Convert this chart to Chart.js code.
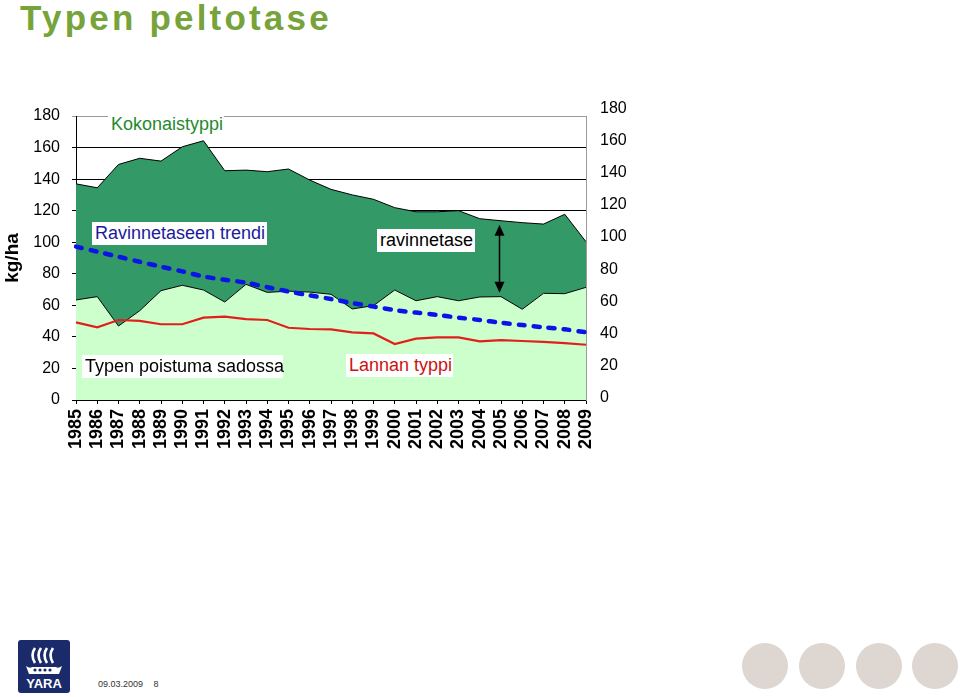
<!DOCTYPE html>
<html>
<head>
<meta charset="utf-8">
<script src="https://cdn.jsdelivr.net/npm/chart.js@4"></script>
<style>
	body { margin: 0; background: #fff; font-family: "Liberation Sans", Arial, sans-serif; }
	#page { position: relative; width: 960px; height: 697px; overflow: hidden; }
	#title { position: absolute; left: 20px; top: -2px; font-size: 35px; font-weight: bold; color: #76a33a; letter-spacing: 3.2px; }
	#chartBox { position: absolute; left: 0; top: 0; width: 640px; height: 470px; }
	.tag { position: absolute; background: #fff; font-size: 18px; line-height: 23px; height: 23px; padding-left: 3px; white-space: nowrap; z-index: 2; }
	#footDate { position: absolute; left: 98px; top: 679px; font-size: 9px; color: #333; word-spacing: 8px; }
	.dot { position: absolute; top: 643px; width: 46px; height: 46px; border-radius: 50%; background: #ddd6d1; }
</style>
</head>
<body>
<div id="page">
	<div id="title">Typen peltotase</div>
	<div id="chartBox"><canvas id="peltotaseChart" width="640" height="470"></canvas></div>

	<!-- tekstilaatikot kaavion päällä -->
	<div class="tag" style="left:108px; top:113px; width:113px; color:#1f8a2e;">Kokonaistyppi</div>
	<div class="tag" style="left:92px; top:222px; width:172px; color:#1a1a9c;">Ravinnetaseen trendi</div>
	<div class="tag" style="left:377px; top:229px; width:95px; color:#000;">ravinnetase</div>
	<div class="tag" style="left:82px; top:355px; width:198px; color:#000;">Typen poistuma sadossa</div>
	<div class="tag" style="left:346px; top:354px; width:104px; color:#cc1111;">Lannan typpi</div>

	<!-- alatunniste -->
	<svg style="position:absolute; left:18px; top:640px;" width="52" height="53" viewBox="0 0 52 53">
		<rect x="0" y="0" width="52" height="53" rx="3" fill="#1b2a6b"/>
		<path d="M17 8 Q12 15 17 23 M23 8 Q18 15 23 23 M29 8 Q24 15 29 23 M35 8 Q30 15 35 23" stroke="#fff" stroke-width="2.6" fill="none"/>
		<path d="M8 26 Q12 29 14 27 L38 27 Q40 29 44 26 L41 34 L11 34 Z" fill="#fff"/>
		<circle cx="17" cy="30" r="1.6" fill="#1b2a6b"/><circle cx="22" cy="30" r="1.6" fill="#1b2a6b"/>
		<circle cx="27" cy="30" r="1.6" fill="#1b2a6b"/><circle cx="32" cy="30" r="1.6" fill="#1b2a6b"/>
		<text x="26" y="48" font-family="Liberation Sans, Arial" font-weight="bold" font-size="13" fill="#fff" text-anchor="middle">YARA</text>
	</svg>
	<div id="footDate">09.03.2009 8</div>
	<div class="dot" style="left:742px;"></div>
	<div class="dot" style="left:799px;"></div>
	<div class="dot" style="left:856px;"></div>
	<div class="dot" style="left:912px;"></div>
</div>

<script>
// vuodet
const years = ["1985", "1986", "1987", "1988", "1989", "1990", "1991", "1992", "1993", "1994",
	"1995", "1996", "1997", "1998", "1999", "2000", "2001", "2002", "2003", "2004",
	"2005", "2006", "2007", "2008", "2009"];

// Kokonaistyppi (kg/ha) - tumman vihreän alueen yläreuna
const kokonaistyppi = [137, 134.5, 149.3, 153.2, 151.4, 160.5, 164.3, 145.3, 145.7, 144.7,
	146.4, 139.4, 133.5, 130, 127.2, 121.9, 119.3, 119.3, 120, 114.9,
	113.6, 112.4, 111.5, 117.7, 100.3];

// Typen poistuma sadossa (kg/ha)
const poistumaSadossa = [63.4, 65.5, 46.9, 56.6, 69.3, 72.7, 69.7, 62.1, 73.3, 68.2,
	69, 68.4, 67, 57.7, 59.8, 69.7, 62.9, 65.5, 62.9, 65.3,
	65.5, 57.5, 67.6, 67.4, 71.4];

// Lannan typpi (kg/ha)
const lannanTyppi = [49.2, 46.1, 50.7, 50.1, 48, 48, 52.2, 52.8, 51.3, 50.7,
	45.8, 45, 44.8, 42.9, 42.2, 35.5, 38.9, 39.7, 39.7, 37.2,
	38, 37.4, 36.8, 36.1, 35];

// Ravinnetaseen trendi
const trendi = [97.2, 94, 90.8, 87.6, 84.5, 81.5, 78.3, 76.2, 74.4, 71.5,
	68.8, 66.3, 64, 61.4, 59.2, 57, 55.4, 53.9, 52.2, 50.7,
	49, 47.5, 46.1, 44.8, 42.9];

// akselien jaot
const leftTicks = [0, 20, 40, 60, 80, 100, 120, 140, 160, 180];
const rightTicks = [0, 20, 40, 60, 80, 100, 120, 140, 160, 180];

const arrowIndex = 20; // ravinnetase-nuoli vuoden 2005 kohdalla

const FONT = "'Liberation Sans', Arial, sans-serif";

// nuoli tumman alueen läpi
const arrowPlugin = {
	id: 'taseArrow',
	afterDatasetsDraw(chart) {
		const ctx = chart.ctx;
		const xs = chart.scales.x;
		const ys = chart.scales.y;
		const x = Math.round(xs.getPixelForValue(arrowIndex)) - 1.5;
		const yTop = ys.getPixelForValue(kokonaistyppi[arrowIndex]) + 4;
		const yBot = ys.getPixelForValue(poistumaSadossa[arrowIndex]) - 4;
		ctx.save();
		ctx.strokeStyle = '#000';
		ctx.fillStyle = '#000';
		ctx.lineWidth = 1.5;
		ctx.beginPath();
		ctx.moveTo(x, yTop + 8);
		ctx.lineTo(x, yBot - 8);
		ctx.stroke();
		ctx.beginPath();
		ctx.moveTo(x, yTop);
		ctx.lineTo(x - 5, yTop + 11);
		ctx.lineTo(x + 5, yTop + 11);
		ctx.closePath();
		ctx.fill();
		ctx.beginPath();
		ctx.moveTo(x, yBot);
		ctx.lineTo(x - 5, yBot - 11);
		ctx.lineTo(x + 5, yBot - 11);
		ctx.closePath();
		ctx.fill();
		ctx.restore();
	}
};

Chart.defaults.font.family = FONT;
Chart.defaults.color = '#000';

const ctxPelto = document.getElementById('peltotaseChart').getContext('2d');
const peltoChart = new Chart(ctxPelto, {
	type: 'line',
	data: {
		labels: years,
		datasets: [{
			label: 'Kokonaistyppi',
			data: kokonaistyppi,
			borderColor: '#000',
			borderWidth: 1,
			backgroundColor: '#339966',
			fill: '+1',
			pointRadius: 0,
			tension: 0,
			order: 4
		}, {
			label: 'Typen poistuma sadossa',
			data: poistumaSadossa,
			borderColor: '#000',
			borderWidth: 1,
			backgroundColor: '#ccffcc',
			fill: 'origin',
			pointRadius: 0,
			tension: 0,
			order: 3
		}, {
			label: 'Lannan typpi',
			data: lannanTyppi,
			borderColor: '#e0201a',
			borderWidth: 2.2,
			fill: false,
			pointRadius: 0,
			tension: 0,
			order: 2
		}, {
			label: 'Ravinnetaseen trendi',
			data: trendi,
			borderColor: '#0a14e6',
			borderWidth: 4.5,
			borderDash: [6, 9],
			borderCapStyle: 'round',
			fill: false,
			pointRadius: 0,
			tension: 0.3,
			order: 1
		}]
	},
	options: {
		responsive: false,
		animation: false,
		devicePixelRatio: 1,
		layout: { padding: { top: 116, left: 0, right: 0, bottom: 0 } },
		plugins: {
			legend: { display: false },
			tooltip: { enabled: false }
		},
		scales: {
			x: {
				type: 'category',
				offset: false,
				afterFit: (scale) => { scale.height = 70; },
				grid: { drawOnChartArea: false, drawTicks: true, tickLength: 4, color: '#000' },
				border: { color: '#000', width: 1 },
				ticks: {
					autoSkip: false, maxRotation: 90, minRotation: 90, padding: 5,
					font: { size: 18, weight: 'bold' }
				}
			},
			y: {
				position: 'left',
				min: 0,
				max: 180,
				afterFit: (scale) => { scale.width = 76; },
				afterBuildTicks: (scale) => { scale.ticks = leftTicks.map(v => ({ value: v })); },
				grid: {
					color: (c) => (c.tick && c.tick.value === 180) ? '#9a9a9a' : '#000',
					tickLength: 4,
					lineWidth: 1
				},
				border: { color: '#000', width: 1 },
				ticks: { padding: 12, font: { size: 16 } },
				title: {
					display: true,
					text: 'kg/ha',
					font: { size: 19, weight: 'bold' },
					padding: { top: 1, bottom: 0 }
				}
			},
			y1: {
				position: 'right',
				min: -1.24,
				max: 175.1,
				afterFit: (scale) => { scale.width = 54; },
				afterBuildTicks: (scale) => { scale.ticks = rightTicks.map(v => ({ value: v })); },
				grid: { display: false, drawTicks: false },
				border: { color: '#9a9a9a', width: 1 },
				ticks: { padding: 14, font: { size: 16 } }
			}
		}
	},
	plugins: [arrowPlugin]
});
</script>
</body>
</html>
